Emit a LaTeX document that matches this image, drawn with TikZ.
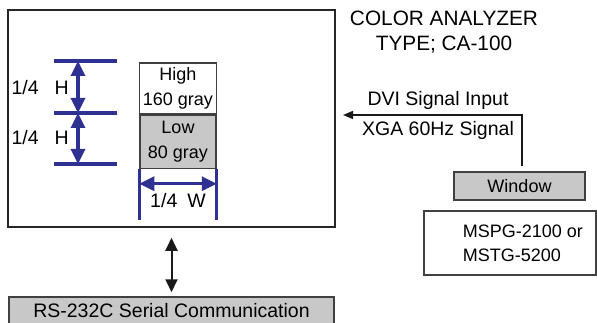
\documentclass[tikz,border=0pt]{standalone}
\usepackage{fontspec}
\setmainfont{Liberation Sans}
\usetikzlibrary{arrows.meta}
\definecolor{dimblue}{RGB}{46,49,146}
\definecolor{panelgray}{RGB}{200,200,200}
\tikzstyle{panel}=[draw=black!85, line width=1.5pt]
\tikzstyle{white box}=[draw=black!75, line width=1.5pt, align=center, font=\fontsize{18}{25}\selectfont]
\tikzstyle{gray box}=[white box, fill=panelgray]
\tikzstyle{box text}=[font=\fontsize{18}{24}\selectfont]
\tikzstyle{label}=[font=\fontsize{19.5}{25}\selectfont, align=center]
\tikzstyle{title}=[font=\fontsize{20.8}{25}\selectfont, align=center]
\tikzstyle{dim line}=[dimblue, line width=3.3pt]
\tikzstyle{dim arrow}=[dim line, >={Triangle[length=15pt,width=14pt]}, <->]
\tikzstyle{signal}=[black!90, line width=1.5pt, -{Triangle[length=10pt,width=8pt]}]
\tikzstyle{link}=[black!90, line width=2pt, >={Triangle[length=13pt,width=12pt]}, <->]

\begin{document}
\begin{tikzpicture}[x=1pt, y=-1pt]
      \useasboundingbox (0,0) rectangle (597,323);

      \node[panel, minimum width=327pt, minimum height=217pt] (screen) at (171.5,118.5) {};
      \node[white box, minimum width=76pt, minimum height=51pt] (high) at (178,88.5) {High\\160 gray};
      \node[gray box, minimum width=76pt, minimum height=53pt, anchor=north] (low) at (high.south) {Low\\80 gray};

      \coordinate (h top) at (78,61);
      \coordinate (h mid) at (78,113);
      \coordinate (h bot) at (78,164);
      \draw[dim line] ([xshift=-24pt]h top) -- ([xshift=39pt]h top);
      \draw[dim line] ([xshift=-24pt]h mid) -- ([xshift=39pt]h mid);
      \draw[dim line] ([xshift=-24pt]h bot) -- ([xshift=39pt]h bot);
      \draw[dim arrow] (h top) -- (h mid);
      \draw[dim arrow] (h mid) -- (h bot);
      \node[label, anchor=west] (quarter h upper) at (8,88) {1/4\hspace{16pt}H};
      \node[label, anchor=west] (quarter h lower) at (8,138) {1/4\hspace{16pt}H};

      \draw[dim line] (low.south west) -- ++(0,51);
      \draw[dim line] (low.south east) -- ++(0,51);
      \draw[dim arrow] ([yshift=-14.5pt]low.south west) -- ([yshift=-14.5pt]low.south east);
      \node[label] (quarter w) at (178,201) {1/4\hspace{10pt}W};

      \node[title] (analyzer) at (444,32.5) {COLOR ANALYZER\\TYPE; CA-100};

      \node[gray box, minimum width=131pt, minimum height=28pt] (window) at (519.5,186) {Window};
      \node[white box, minimum width=172pt, minimum height=64pt] (generator) at (510,243) {};
      \node[box text, anchor=west, align=left] (generator text) at ([xshift=36pt]generator.west) {MSPG-2100 or\\MSTG-5200};

      \coordinate (dvi tip) at (343,115);
      \draw[signal] ([xshift=2.5pt, yshift=5pt]window.north) |- (dvi tip);
      \node[label] (dvi label) at (438,100) {DVI Signal Input};
      \node[label] (xga label) at (438,130) {XGA 60Hz Signal};

      \node[gray box, font=\fontsize{19.5}{25}\selectfont, minimum width=325pt, minimum height=28pt] (serial) at (171.5,311) {RS-232C Serial Communication};
      \draw[link] ([yshift=-10pt]screen.south) -- ([yshift=4pt]serial.north);
    \end{tikzpicture}
\end{document}
